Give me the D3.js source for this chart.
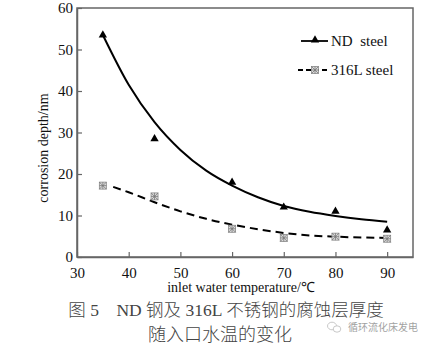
<!DOCTYPE html>
<html><head><meta charset="utf-8">
<script src="https://cdn.jsdelivr.net/npm/d3@7"></script>
<style>body{margin:0;background:#fff}svg{display:block}</style>
</head><body>
<svg id="c" width="432" height="346"></svg>
<script>
const xTicks = [30,40,50,60,70,80,90];
const yTicks = [0,10,20,30,40,50,60];
const temps = [35,45,60,70,80,90];
const ndDepth = [53.5,28.5,18,12,11,6.5];
const ssDepth = [17.2,14.6,6.8,4.6,4.9,4.4];
const ndFitX = [35,40,45,50,55,60,65,70,75,80,85,90];
const ndFitY = [53.5,41.5,32.5,25.8,20.8,17.2,14.4,12.3,10.9,9.9,9.1,8.5];
const ssFitX = [37,40,45,50,55,60,65,70,75,80,85,90];
const ssFitY = [16.9,15.6,13.2,11.0,9.2,7.8,6.7,5.8,5.2,4.9,4.7,4.6];
const legendLabels = ["ND  steel","316L steel"];
const xTitle = "inlet water temperature/℃";
const yTitle = "corrosion depth/nm";
const caption1 = "图 5　ND 钢及 316L 不锈钢的腐蚀层厚度";
const caption2 = "随入口水温的变化";
const watermark = "循环流化床发电";

const svg = d3.select("#c");
const L=77,R=413,T=8,B=257;
const x = d3.scaleLinear().domain([30,95]).range([L,R]);
const y = d3.scaleLinear().domain([0,60]).range([B,T]);
const serif = "'Liberation Serif','Times New Roman',serif";
const axisCol = "#666";

// box
svg.append("rect").attr("x",L).attr("y",T).attr("width",R-L).attr("height",B-T)
  .attr("fill","none").attr("stroke",axisCol).attr("stroke-width",1.5);

// axes
const gx = svg.append("g").attr("transform",`translate(0,${B})`)
  .call(d3.axisBottom(x).tickValues(xTicks).tickSizeInner(-5).tickSizeOuter(0).tickPadding(10));
const gy = svg.append("g").attr("transform",`translate(${L},0)`)
  .call(d3.axisLeft(y).tickValues(yTicks).tickSizeInner(-5).tickSizeOuter(0).tickPadding(4));
[gx,gy].forEach(g=>{
  g.attr("font-family",null).attr("font-size",null);
  g.select(".domain").attr("stroke",axisCol).attr("stroke-width",1.5);
  g.selectAll(".tick line").attr("stroke",axisCol).attr("stroke-width",1.2);
  g.selectAll("text").style("font-family",serif).style("font-size","15px").attr("fill","#111");
});

// titles
svg.append("text").attr("x",241).attr("y",292).attr("text-anchor","middle")
  .style("font-family",serif).attr("font-size",14).attr("fill","#111").text(xTitle);
svg.append("text").attr("transform","translate(48,148) rotate(-90)").attr("text-anchor","middle")
  .style("font-family",serif).attr("font-size",14).attr("fill","#111").text(yTitle);

// fitted curves
const line = d3.line().x(d=>x(d[0])).y(d=>y(d[1])).curve(d3.curveMonotoneX);
svg.append("path").datum(d3.zip(ndFitX,ndFitY)).attr("d",line)
  .attr("fill","none").attr("stroke","#000").attr("stroke-width",2);
svg.append("path").datum(d3.zip(ssFitX,ssFitY)).attr("d",line)
  .attr("fill","none").attr("stroke","#000").attr("stroke-width",2).attr("stroke-dasharray","8,5");

// markers
const tri = d3.symbol().type(d3.symbolTriangle).size(30);
function drawTri(cx,cy){
  svg.append("path").attr("d",tri).attr("transform",`translate(${cx},${cy})`).attr("fill","#000");
}
function drawHatch(cx,cy){
  const g = svg.append("g").attr("transform",`translate(${cx},${cy})`);
  g.append("rect").attr("x",-3.5).attr("y",-3.5).attr("width",7).attr("height",7)
    .attr("fill","#ddd").attr("stroke","#888").attr("stroke-width",0.8);
  g.append("path").attr("d","M-3.5,-3.5L3.5,3.5M3.5,-3.5L-3.5,3.5M0,-3.5L0,3.5M-3.5,0L3.5,0")
    .attr("stroke","#777").attr("stroke-width",0.8);
}
temps.forEach((t,i)=>drawTri(x(t),y(ndDepth[i])));
temps.forEach((t,i)=>drawHatch(x(t),y(ssDepth[i])));

// legend
svg.append("line").attr("x1",301).attr("x2",328).attr("y1",41).attr("y2",41)
  .attr("stroke","#000").attr("stroke-width",1.8);
drawTri(315,40);
svg.append("text").attr("x",331).attr("y",46).style("font-family",serif).attr("font-size",15)
  .attr("fill","#111").style("white-space","pre").text(legendLabels[0]);
svg.append("line").attr("x1",298).attr("x2",329).attr("y1",70).attr("y2",70)
  .attr("stroke","#000").attr("stroke-width",1.8).attr("stroke-dasharray","5,3");
drawHatch(315,70);
svg.append("text").attr("x",331).attr("y",75).style("font-family",serif).attr("font-size",15)
  .attr("fill","#111").text(legendLabels[1]);

// captions
const capFont = "'Liberation Serif','Noto Sans CJK SC',serif";
svg.append("text").attr("x",226).attr("y",316).attr("text-anchor","middle")
  .style("font-family",capFont).style("font-weight",300).attr("font-size",17.5).attr("fill","#444").text(caption1);
svg.append("text").attr("x",220).attr("y",341).attr("text-anchor","middle")
  .style("font-family",capFont).style("font-weight",300).attr("font-size",18).attr("fill","#444").text(caption2);

// watermark
const wm = svg.append("g").attr("opacity",0.5);
wm.append("ellipse").attr("cx",332).attr("cy",326).attr("rx",4.5).attr("ry",3.8)
  .attr("fill","none").attr("stroke","#888").attr("stroke-width",0.9);
wm.append("ellipse").attr("cx",337).attr("cy",329).attr("rx",3.8).attr("ry",3.2)
  .attr("fill","#fff").attr("stroke","#888").attr("stroke-width",0.9);
wm.append("text").attr("x",348).attr("y",331).style("font-family","'Noto Sans CJK SC',sans-serif")
  .attr("font-size",10).attr("fill","#444").text(watermark);
</script>
</body></html>
